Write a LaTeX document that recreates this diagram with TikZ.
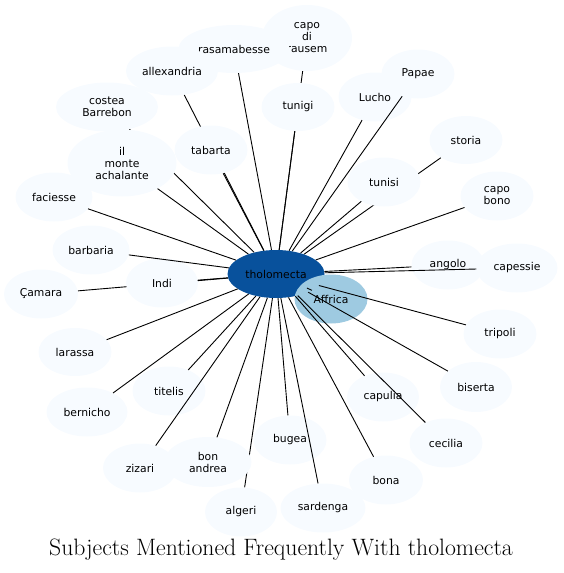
\documentclass[tikz,border=0pt]{standalone}
\usepackage{fontspec}
\newfontfamily\topicfont{DejaVu Sans}
\usetikzlibrary{shapes.geometric}

\definecolor{hubblue}{HTML}{08519C}
\definecolor{nearblue}{HTML}{9ECAE1}
\definecolor{paleblue}{HTML}{F7FBFF}

\pgfdeclarelayer{background}
\pgfsetlayers{background,main}

\tikzset{
  topic/.style={ellipse, fill=paleblue, draw=none, inner sep=0pt,
    minimum height=49pt, align=center,
    font=\topicfont\fontsize{10.8}{12}\selectfont},
  hub/.style={topic, fill=hubblue},
  near/.style={topic, fill=nearblue},
  link/.style={draw=black, line width=0.9pt},
}

\begin{document}
\begin{tikzpicture}[x=1pt, y=-1pt]
    \useasboundingbox (0,0) rectangle (563,573);

    % centre and the topics round it
    \node[hub, minimum width=97pt, minimum height=48pt] (tholomecta) at (276,274) {tholomecta};
    \node[near, minimum width=73pt] (Africa) at (331,299) {Affrica};

    \node[topic, minimum width=90pt, minimum height=66pt] (capodi) at (307,38) {capo\\di\\rausem};
    \node[topic, minimum width=111pt, minimum height=48pt] (rasamabesse) at (234,49) {rasamabesse};
    \node[topic, minimum width=92pt] (allexandria) at (172,71) {allexandria};
    \node[topic, minimum width=102pt] (costea) at (107,107) {costea\\Barrebon};
    \node[topic, minimum width=73pt] (tabarta) at (211,150) {tabarta};
    \node[topic, minimum width=109pt, minimum height=67pt] (ilmonte) at (122,163) {il\\monte\\achalante};
    \node[topic, minimum width=77pt] (faciesse) at (54,197) {faciesse};
    \node[topic, minimum width=77pt] (barbaria) at (91,250) {barbaria};
    \node[topic, minimum width=72pt] (Indi) at (162,283) {Indi};
    \node[topic, minimum width=74pt] (camara) at (41,294) {Çamara};
    \node[topic, minimum width=73pt, minimum height=48pt] (larassa) at (75,352) {larassa};
    \node[topic, minimum width=81pt] (bernicho) at (87,412) {bernicho};
    \node[topic, minimum width=73pt] (titelis) at (169,391) {titelis};
    \node[topic, minimum width=74pt] (zizari) at (140,468) {zizari};
    \node[topic, minimum width=87pt, minimum height=50pt] (bonandrea) at (208,462) {bon\\andrea};
    \node[topic, minimum width=72pt] (algeri) at (241,512) {algeri};
    \node[topic, minimum width=73pt] (bugea) at (290,440) {bugea};
    \node[topic, minimum width=85pt] (sardenga) at (323,508) {sardenga};
    \node[topic, minimum width=74pt] (bona) at (386,480) {bona};
    \node[topic, minimum width=72pt] (capulia) at (383,397) {capulia};
    \node[topic, minimum width=73pt] (cecilia) at (446,443) {cecilia};
    \node[topic, minimum width=72pt, minimum height=50pt] (biserta) at (476,387) {biserta};
    \node[topic, minimum width=73pt] (tripoli) at (500,334) {tripoli};
    \node[topic, minimum width=73pt] (angolo) at (448,265) {angolo};
    \node[topic, minimum width=81pt] (capessie) at (517,268) {capessie};
    \node[topic, minimum width=73pt] (capobono) at (497,196) {capo\\bono};
    \node[topic, minimum width=73pt, minimum height=48pt] (storia) at (466,140) {storia};
    \node[topic, minimum width=73pt] (tunisi) at (384,182) {tunisi};
    \node[topic, minimum width=73pt] (Lucho) at (375,97) {Lucho};
    \node[topic, minimum width=73pt] (Papae) at (418,74) {Papae};
    \node[topic, minimum width=73pt, minimum height=48pt] (tunigi) at (298,107) {tunigi};

    % links hidden under other topics
    \begin{pgfonlayer}{background}
    \foreach \t in {allexandria, capodi, storia, camara, costea, algeri}
        \draw[link] (tholomecta) -- (\t);
    \end{pgfonlayer}

    % links drawn on top
    \foreach \t in {rasamabesse, tunigi, Lucho, Papae, tunisi, capobono, angolo,
                    capessie, tripoli, biserta, capulia, cecilia, bona, sardenga,
                    bugea, bonandrea, zizari, titelis, bernicho, larassa, Indi,
                    barbaria, faciesse, ilmonte, tabarta}
        \draw[link] (tholomecta) -- (\t);
    \draw[link, shorten >=7pt] (tholomecta) -- (Africa);

    \node[font=\fontsize{23.7}{26}\selectfont] (title) at (281,550)
        {Subjects Mentioned Frequently With tholomecta};
\end{tikzpicture}
\end{document}
